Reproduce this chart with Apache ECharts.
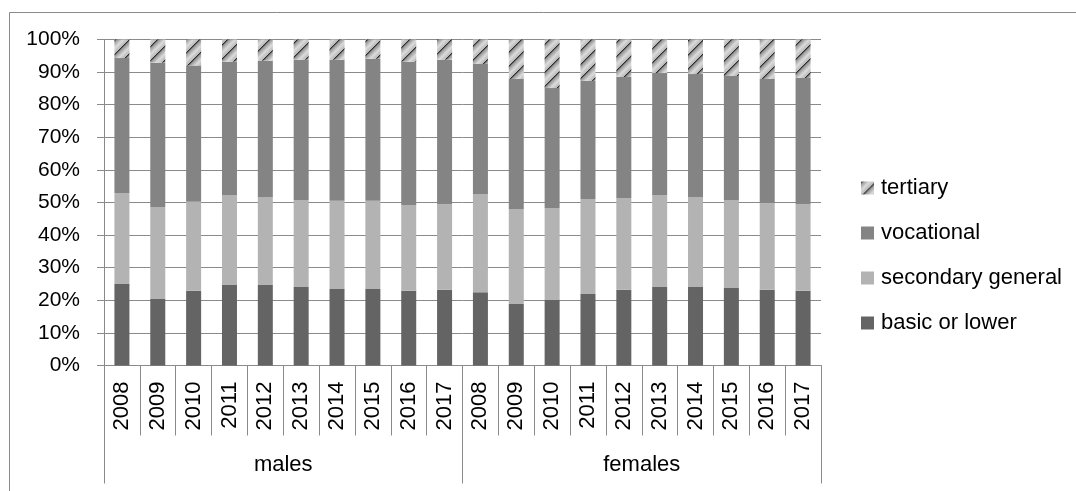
<!DOCTYPE html>
<html>
<head>
<meta charset="utf-8">
<script src="https://cdn.jsdelivr.net/npm/echarts@6/dist/echarts.min.js"></script>
<style>
  html, body { margin: 0; padding: 0; background: #fff; }
  #chart { width: 1076px; height: 491px; }
</style>
</head>
<body>
<div id="chart"></div>
<script>
// Years shown for each group
const years = ['2008', '2009', '2010', '2011', '2012', '2013', '2014', '2015', '2016', '2017'];
const groups = ['males', 'females'];

// Shares of each education level (%), males 2008–2017 then females 2008–2017
const basicOrLower = [25.0, 20.4, 22.9, 24.7, 24.7, 24.1, 23.5, 23.5, 22.9, 23.2,
                      22.5, 18.9, 20.1, 21.9, 23.2, 24.1, 24.1, 23.8, 23.2, 22.9];
const secondaryGeneral = [27.9, 28.2, 27.3, 27.6, 27.0, 26.7, 27.0, 27.0, 26.3, 26.3,
                          30.1, 29.1, 28.2, 29.2, 28.2, 28.2, 27.6, 27.0, 26.6, 26.6];
const vocational = [41.4, 44.3, 41.8, 40.9, 41.8, 43.0, 43.3, 43.6, 44.0, 44.3,
                    39.9, 39.9, 36.8, 36.2, 37.1, 37.4, 37.7, 38.0, 38.1, 38.7];
const tertiary = [5.7, 7.1, 8.0, 6.8, 6.5, 6.2, 6.2, 5.9, 6.8, 6.2,
                  7.5, 12.1, 14.9, 12.7, 11.5, 10.3, 10.6, 11.2, 12.1, 11.8];

const yTicks = [0, 10, 20, 30, 40, 50, 60, 70, 80, 90, 100];

const categories = groups.flatMap(() => years);

// Diagonal shaded hatch used for the tertiary series
function makeHatch() {
  const P = 14;
  const c = document.createElement('canvas');
  c.width = P; c.height = P;
  const ctx = c.getContext('2d');
  const img = ctx.createImageData(P, P);
  for (let y = 0; y < P; y++) {
    for (let x = 0; x < P; x++) {
      const t = ((x + y) % P) / P;
      let v;
      if (t < 0.12) v = 45 + (t / 0.12) * 100;
      else if (t < 0.55) v = 150 + ((t - 0.12) / 0.43) * 70;
      else v = 220 - ((t - 0.55) / 0.45) * 40;
      const i = (y * P + x) * 4;
      img.data[i] = img.data[i + 1] = img.data[i + 2] = Math.round(v);
      img.data[i + 3] = 255;
    }
  }
  ctx.putImageData(img, 0, 0);
  return c;
}

const FONT = 'Liberation Sans';
const GRID_COLOR = '#8a8a8a';

const chart = echarts.init(document.getElementById('chart'), null, { renderer: 'canvas' });

function barSeries(name, data, color) {
  return {
    name: name,
    type: 'bar',
    stack: 'total',
    barWidth: 15,
    data: data,
    itemStyle: { color: color },
    emphasis: { disabled: true }
  };
}

chart.setOption({
  animation: false,
  backgroundColor: '#fff',
  textStyle: { fontFamily: FONT },
  graphic: [{
    type: 'rect',
    shape: { x: 9.5, y: 12.5, width: 1200, height: 600 },
    style: { fill: 'none', stroke: GRID_COLOR, lineWidth: 1 },
    silent: true
  }],
  grid: { left: 104, right: 255, top: 39.5, bottom: 125.5 },
  legend: {
    orient: 'vertical',
    left: 856,
    top: 172,
    itemWidth: 13,
    itemHeight: 13,
    itemGap: 23,
    icon: 'rect',
    data: ['tertiary', 'vocational', 'secondary general', 'basic or lower'],
    textStyle: { fontFamily: FONT, fontSize: 22, color: '#000', padding: [0, 0, 0, 2] }
  },
  xAxis: [{
    type: 'category',
    data: categories,
    axisLine: { show: true, lineStyle: { color: GRID_COLOR, width: 1 } },
    axisTick: { show: true, length: 70, interval: 0, lineStyle: { color: GRID_COLOR } },
    axisLabel: {
      interval: 0, rotate: 90, margin: 16,
      fontFamily: FONT, fontSize: 22, color: '#000'
    }
  }, {
    type: 'category',
    data: groups,
    position: 'bottom',
    axisLine: { show: false },
    axisTick: { show: true, length: 118, interval: 0, lineStyle: { color: GRID_COLOR } },
    axisLabel: { interval: 0, margin: 88, fontFamily: FONT, fontSize: 22, color: '#000' },
    splitLine: { show: false }
  }],
  yAxis: {
    type: 'value',
    min: yTicks[0],
    max: yTicks[yTicks.length - 1],
    interval: 10,
    axisLine: { show: true, lineStyle: { color: GRID_COLOR, width: 1 } },
    axisTick: { show: true, length: 7, lineStyle: { color: GRID_COLOR } },
    axisLabel: {
      margin: 24, fontFamily: FONT, fontSize: 21, color: '#000',
      formatter: v => v + '%'
    },
    splitLine: { show: true, lineStyle: { color: GRID_COLOR, width: 1 } }
  },
  series: [
    barSeries('basic or lower', basicOrLower, '#646464'),
    barSeries('secondary general', secondaryGeneral, '#b3b3b3'),
    barSeries('vocational', vocational, '#848484'),
    barSeries('tertiary', tertiary, { image: makeHatch(), repeat: 'repeat' })
  ]
});
</script>
</body>
</html>
